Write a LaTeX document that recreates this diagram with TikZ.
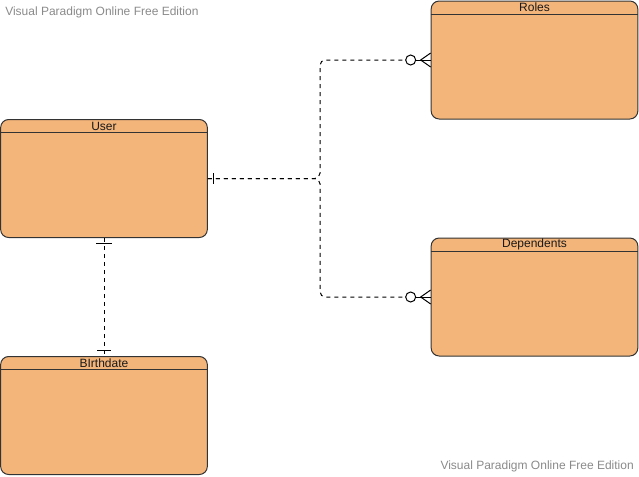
\documentclass[tikz,border=0pt]{standalone}
\usepackage{fontspec}
\setmainfont{Liberation Sans}
\usepackage{tikz}
\usetikzlibrary{calc}
\definecolor{entfill}{HTML}{F4B57B}
\definecolor{entline}{HTML}{333333}
\definecolor{wmark}{HTML}{8A8A8A}

\begin{document}
\begin{tikzpicture}[x=0.75pt,y=-0.75pt]
            \useasboundingbox (0,0) rectangle (639,476);
            \begin{scope}[every node/.style={draw=entline,fill=entfill,rounded corners=6pt,line width=0.75pt,
                          minimum width=155pt,minimum height=88.5pt,inner sep=0pt}]
                \node (user) at (104,178.5) {};
                \node (roles) at (534.5,60) {};
                \node (dependents) at (534.5,297) {};
                \node (birthdate) at (104,415.5) {};
            \end{scope}
            \begin{scope}[every node/.style={font=\fontsize{9}{10}\selectfont,text=black!90,inner sep=0pt}]
                \node (usertitle) at ($(user.north)+(0,7)$) {User};
                \node (rolestitle) at ($(roles.north)+(0,7)$) {Roles};
                \node (dependentstitle) at ($(dependents.north)+(0,7)$) {Dependents};
                \node (birthdatetitle) at ($(birthdate.north)+(0,7)$) {BIrthdate};
            \end{scope}
            \begin{scope}[line width=0.75pt,draw=entline]
                \draw ($(user.north west)+(0,13.5)$) -- ($(user.north east)+(0,13.5)$);
                \draw ($(roles.north west)+(0,13.5)$) -- ($(roles.north east)+(0,13.5)$);
                \draw ($(dependents.north west)+(0,13.5)$) -- ($(dependents.north east)+(0,13.5)$);
                \draw ($(birthdate.north west)+(0,13.5)$) -- ($(birthdate.north east)+(0,13.5)$);
            \end{scope}
            \coordinate (fork) at (320,178.5);
            \begin{scope}[line width=0.75pt,dash pattern=on 3pt off 3pt]
                \draw[rounded corners=4pt] (user.east) -- (fork) |- ($(roles.west)+(-26,0)$);
                \draw[rounded corners=4pt] (user.east) -- (fork) |- ($(dependents.west)+(-26,0)$);
                \draw (user.south) -- (birthdate.north);
            \end{scope}
            \begin{scope}[line width=0.75pt]
                % one-only ends
                \draw ($(user.east)+(6,-5.5)$) -- ($(user.east)+(6,5.5)$);
                \draw ($(user.south)+(-8,5)$) -- ($(user.south)+(8,5)$);
                \draw ($(birthdate.north)+(-7,-6)$) -- ($(birthdate.north)+(7,-6)$);
                % zero-or-many ends
                \draw[fill=white] ($(roles.west)+(-20,0)$) circle[radius=5];
                \draw ($(roles.west)+(-15,0)$) -- (roles.west);
                \draw ($(roles.west)+(0,-7)$) -- ($(roles.west)+(-10,0)$) -- ($(roles.west)+(0,7)$);
                \draw[fill=white] ($(dependents.west)+(-20,0)$) circle[radius=5];
                \draw ($(dependents.west)+(-15,0)$) -- (dependents.west);
                \draw ($(dependents.west)+(0,-7)$) -- ($(dependents.west)+(-10,0)$) -- ($(dependents.west)+(0,7)$);
            \end{scope}
            \node[font=\fontsize{9}{10}\selectfont,text=wmark,anchor=west,inner sep=0pt] (wmtop) at (5,12) {Visual Paradigm Online Free Edition};
            \node[font=\fontsize{9}{10}\selectfont,text=wmark,anchor=east,inner sep=0pt] (wmbottom) at (634,466) {Visual Paradigm Online Free Edition};
        \end{tikzpicture}
\end{document}
